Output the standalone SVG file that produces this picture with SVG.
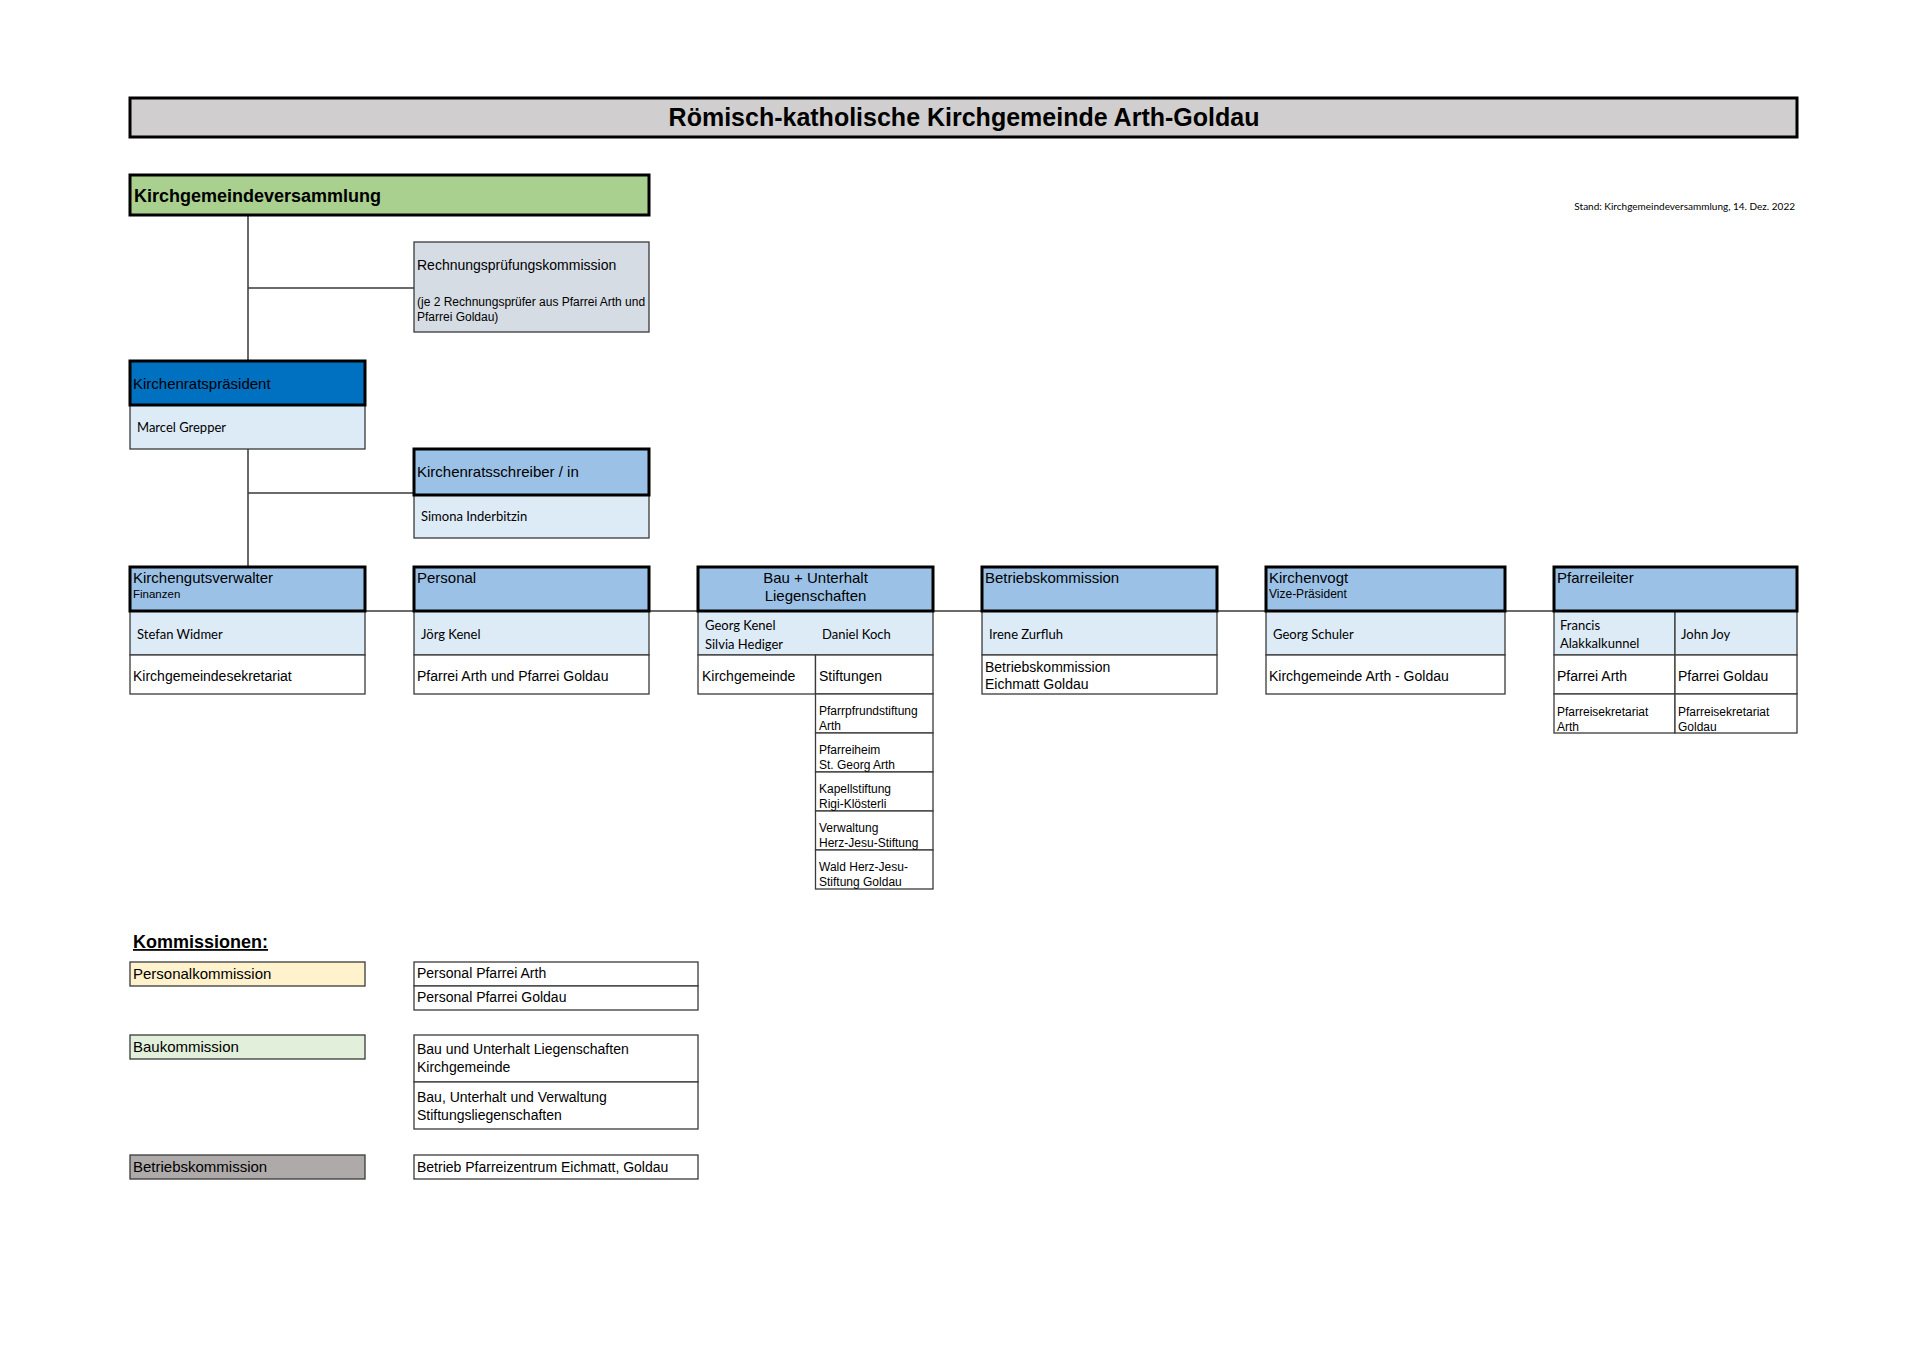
<svg xmlns="http://www.w3.org/2000/svg" width="1920" height="1357" viewBox="0 0 1920 1357">
<style>
.bg{fill:#ffffff}
.thick{stroke:#000;stroke-width:3}
.thin{stroke:#3a3a3a;stroke-width:1.3}
.hdr{fill:#9bc2e6}
.nm{fill:#ddebf7}
.wh{fill:#ffffff}
.a{font-family:"Liberation Sans",Arial,sans-serif;fill:#000}
.c{font-family:Lato,"Open Sans",sans-serif;fill:#000}
.t15{font-size:15px}
.t14{font-size:14px}
.t12{font-size:12px}
.t11{font-size:11.5px}
.n13{font-size:13px}
.conn{stroke:#3a3a3a;stroke-width:1.5;fill:none}
</style>
<rect class="bg" x="0" y="0" width="1920" height="1357"/>

<g id="connectors">
<path class="conn" d="M248 215 V361 M248 288 H414 M248 449 V567 M248 493 H414 M365 611 H1554"/>
</g>

<g id="title">
<rect x="130" y="98" width="1667" height="39" fill="#d0cece" class="thick"/>
<text x="964" y="126" text-anchor="middle" class="a" font-size="25" font-weight="bold">Römisch-katholische Kirchgemeinde Arth-Goldau</text>
</g>

<g id="stand">
<text x="1795" y="210" text-anchor="end" class="c" font-size="10">Stand: Kirchgemeindeversammlung, 14. Dez. 2022</text>
</g>

<g id="kirchgemeindeversammlung">
<rect x="130" y="175" width="519" height="40" fill="#a9d08e" class="thick"/>
<text x="134" y="202" class="a" font-size="18" font-weight="bold">Kirchgemeindeversammlung</text>
</g>

<g id="rechnungspruefungskommission">
<rect x="414" y="242" width="235" height="90" fill="#d6dce4" class="thin"/>
<text x="417" y="270" class="a t14">Rechnungsprüfungskommission</text>
<text x="417" y="306" class="a t12">(je 2 Rechnungsprüfer aus Pfarrei Arth und</text>
<text x="417" y="321" class="a t12">Pfarrei Goldau)</text>
</g>

<g id="kirchenratspraesident">
<rect x="130" y="405" width="235" height="44" class="nm thin"/>
<rect x="130" y="361" width="235" height="44" fill="#0070c0" class="thick"/>
<text x="133" y="389" class="a t15">Kirchenratspräsident</text>
<text x="137" y="432" class="c n13">Marcel Grepper</text>
</g>

<g id="kirchenratsschreiber">
<rect x="414" y="495" width="235" height="43" class="nm thin"/>
<rect x="414" y="449" width="235" height="46" class="hdr thick"/>
<text x="417" y="477" class="a t15">Kirchenratsschreiber / in</text>
<text x="421" y="521" class="c n13">Simona Inderbitzin</text>
</g>

<g id="kirchengutsverwalter">
<rect x="130" y="611" width="235" height="44" class="nm thin"/>
<rect x="130" y="655" width="235" height="39" class="wh thin"/>
<rect x="130" y="567" width="235" height="44" class="hdr thick"/>
<text x="133" y="583" class="a t15">Kirchengutsverwalter</text>
<text x="133" y="598" class="a t11">Finanzen</text>
<text x="137" y="639" class="c n13">Stefan Widmer</text>
<text x="133" y="681" class="a t14">Kirchgemeindesekretariat</text>
</g>

<g id="personal">
<rect x="414" y="611" width="235" height="44" class="nm thin"/>
<rect x="414" y="655" width="235" height="39" class="wh thin"/>
<rect x="414" y="567" width="235" height="44" class="hdr thick"/>
<text x="417" y="583" class="a t15">Personal</text>
<text x="421" y="639" class="c n13">Jörg Kenel</text>
<text x="417" y="681" class="a t14">Pfarrei Arth und Pfarrei Goldau</text>
</g>

<g id="bau">
<rect x="698" y="611" width="235" height="44" class="nm thin"/>
<rect x="698" y="655" width="117.5" height="39" class="wh thin"/>
<rect x="815.5" y="655" width="117.5" height="39" class="wh thin"/>
<rect x="698" y="567" width="235" height="44" class="hdr thick"/>
<text x="815.5" y="583" text-anchor="middle" class="a t15">Bau + Unterhalt</text>
<text x="815.5" y="601" text-anchor="middle" class="a t15">Liegenschaften</text>
<text x="705" y="630" class="c n13">Georg Kenel</text>
<text x="705" y="649" class="c n13">Silvia Hediger</text>
<text x="822" y="639" class="c n13">Daniel Koch</text>
<text x="702" y="681" class="a t14">Kirchgemeinde</text>
<text x="819" y="681" class="a t14">Stiftungen</text>
</g>

<g id="stiftungen">
<rect x="815.5" y="694" width="117.5" height="39" class="wh thin"/>
<rect x="815.5" y="733" width="117.5" height="39" class="wh thin"/>
<rect x="815.5" y="772" width="117.5" height="39" class="wh thin"/>
<rect x="815.5" y="811" width="117.5" height="39" class="wh thin"/>
<rect x="815.5" y="850" width="117.5" height="39" class="wh thin"/>
<text x="819" y="715" class="a t12">Pfarrpfrundstiftung</text>
<text x="819" y="730" class="a t12">Arth</text>
<text x="819" y="754" class="a t12">Pfarreiheim</text>
<text x="819" y="769" class="a t12">St. Georg Arth</text>
<text x="819" y="793" class="a t12">Kapellstiftung</text>
<text x="819" y="808" class="a t12">Rigi-Klösterli</text>
<text x="819" y="832" class="a t12">Verwaltung</text>
<text x="819" y="847" class="a t12">Herz-Jesu-Stiftung</text>
<text x="819" y="871" class="a t12">Wald Herz-Jesu-</text>
<text x="819" y="886" class="a t12">Stiftung Goldau</text>
</g>

<g id="betriebskommission">
<rect x="982" y="611" width="235" height="44" class="nm thin"/>
<rect x="982" y="655" width="235" height="39" class="wh thin"/>
<rect x="982" y="567" width="235" height="44" class="hdr thick"/>
<text x="985" y="583" class="a t15">Betriebskommission</text>
<text x="989" y="639" class="c n13">Irene Zurfluh</text>
<text x="985" y="672" class="a t14">Betriebskommission</text>
<text x="985" y="689" class="a t14">Eichmatt Goldau</text>
</g>

<g id="kirchenvogt">
<rect x="1266" y="611" width="239" height="44" class="nm thin"/>
<rect x="1266" y="655" width="239" height="39" class="wh thin"/>
<rect x="1266" y="567" width="239" height="44" class="hdr thick"/>
<text x="1269" y="583" class="a t15">Kirchenvogt</text>
<text x="1269" y="598" class="a t12">Vize-Präsident</text>
<text x="1273" y="639" class="c n13">Georg Schuler</text>
<text x="1269" y="681" class="a t14">Kirchgemeinde Arth - Goldau</text>
</g>

<g id="pfarreileiter">
<rect x="1554" y="611" width="121" height="44" class="nm thin"/>
<rect x="1675" y="611" width="122" height="44" class="nm thin"/>
<rect x="1554" y="655" width="121" height="39" class="wh thin"/>
<rect x="1675" y="655" width="122" height="39" class="wh thin"/>
<rect x="1554" y="694" width="121" height="39" class="wh thin"/>
<rect x="1675" y="694" width="122" height="39" class="wh thin"/>
<rect x="1554" y="567" width="243" height="44" class="hdr thick"/>
<text x="1557" y="583" class="a t15">Pfarreileiter</text>
<text x="1560" y="630" class="c n13">Francis</text>
<text x="1560" y="648" class="c n13">Alakkalkunnel</text>
<text x="1681" y="639" class="c n13">John Joy</text>
<text x="1557" y="681" class="a t14">Pfarrei Arth</text>
<text x="1678" y="681" class="a t14">Pfarrei Goldau</text>
<text x="1557" y="716" class="a t12">Pfarreisekretariat</text>
<text x="1557" y="731" class="a t12">Arth</text>
<text x="1678" y="716" class="a t12">Pfarreisekretariat</text>
<text x="1678" y="731" class="a t12">Goldau</text>
</g>

<g id="kommissionen">
<text x="133" y="948" class="a" font-size="18" font-weight="bold" text-decoration="underline">Kommissionen:</text>
</g>

<g id="personalkommission">
<rect x="130" y="962" width="235" height="24" fill="#fff2cc" class="thin"/>
<text x="133" y="979" class="a t15">Personalkommission</text>
<rect x="414" y="962" width="284" height="24" class="wh thin"/>
<rect x="414" y="986" width="284" height="24" class="wh thin"/>
<text x="417" y="978" class="a t14">Personal Pfarrei Arth</text>
<text x="417" y="1002" class="a t14">Personal Pfarrei Goldau</text>
</g>

<g id="baukommission">
<rect x="130" y="1035" width="235" height="24" fill="#e2efda" class="thin"/>
<text x="133" y="1052" class="a t15">Baukommission</text>
<rect x="414" y="1035" width="284" height="47" class="wh thin"/>
<rect x="414" y="1082" width="284" height="47" class="wh thin"/>
<text x="417" y="1054" class="a t14">Bau und Unterhalt Liegenschaften</text>
<text x="417" y="1072" class="a t14">Kirchgemeinde</text>
<text x="417" y="1102" class="a t14">Bau, Unterhalt und Verwaltung</text>
<text x="417" y="1120" class="a t14">Stiftungsliegenschaften</text>
</g>

<g id="betriebskommission-komm">
<rect x="130" y="1155" width="235" height="24" fill="#aeaaaa" class="thin"/>
<text x="133" y="1172" class="a t15">Betriebskommission</text>
<rect x="414" y="1155" width="284" height="24" class="wh thin"/>
<text x="417" y="1172" class="a t14">Betrieb Pfarreizentrum Eichmatt, Goldau</text>
</g>
</svg>
